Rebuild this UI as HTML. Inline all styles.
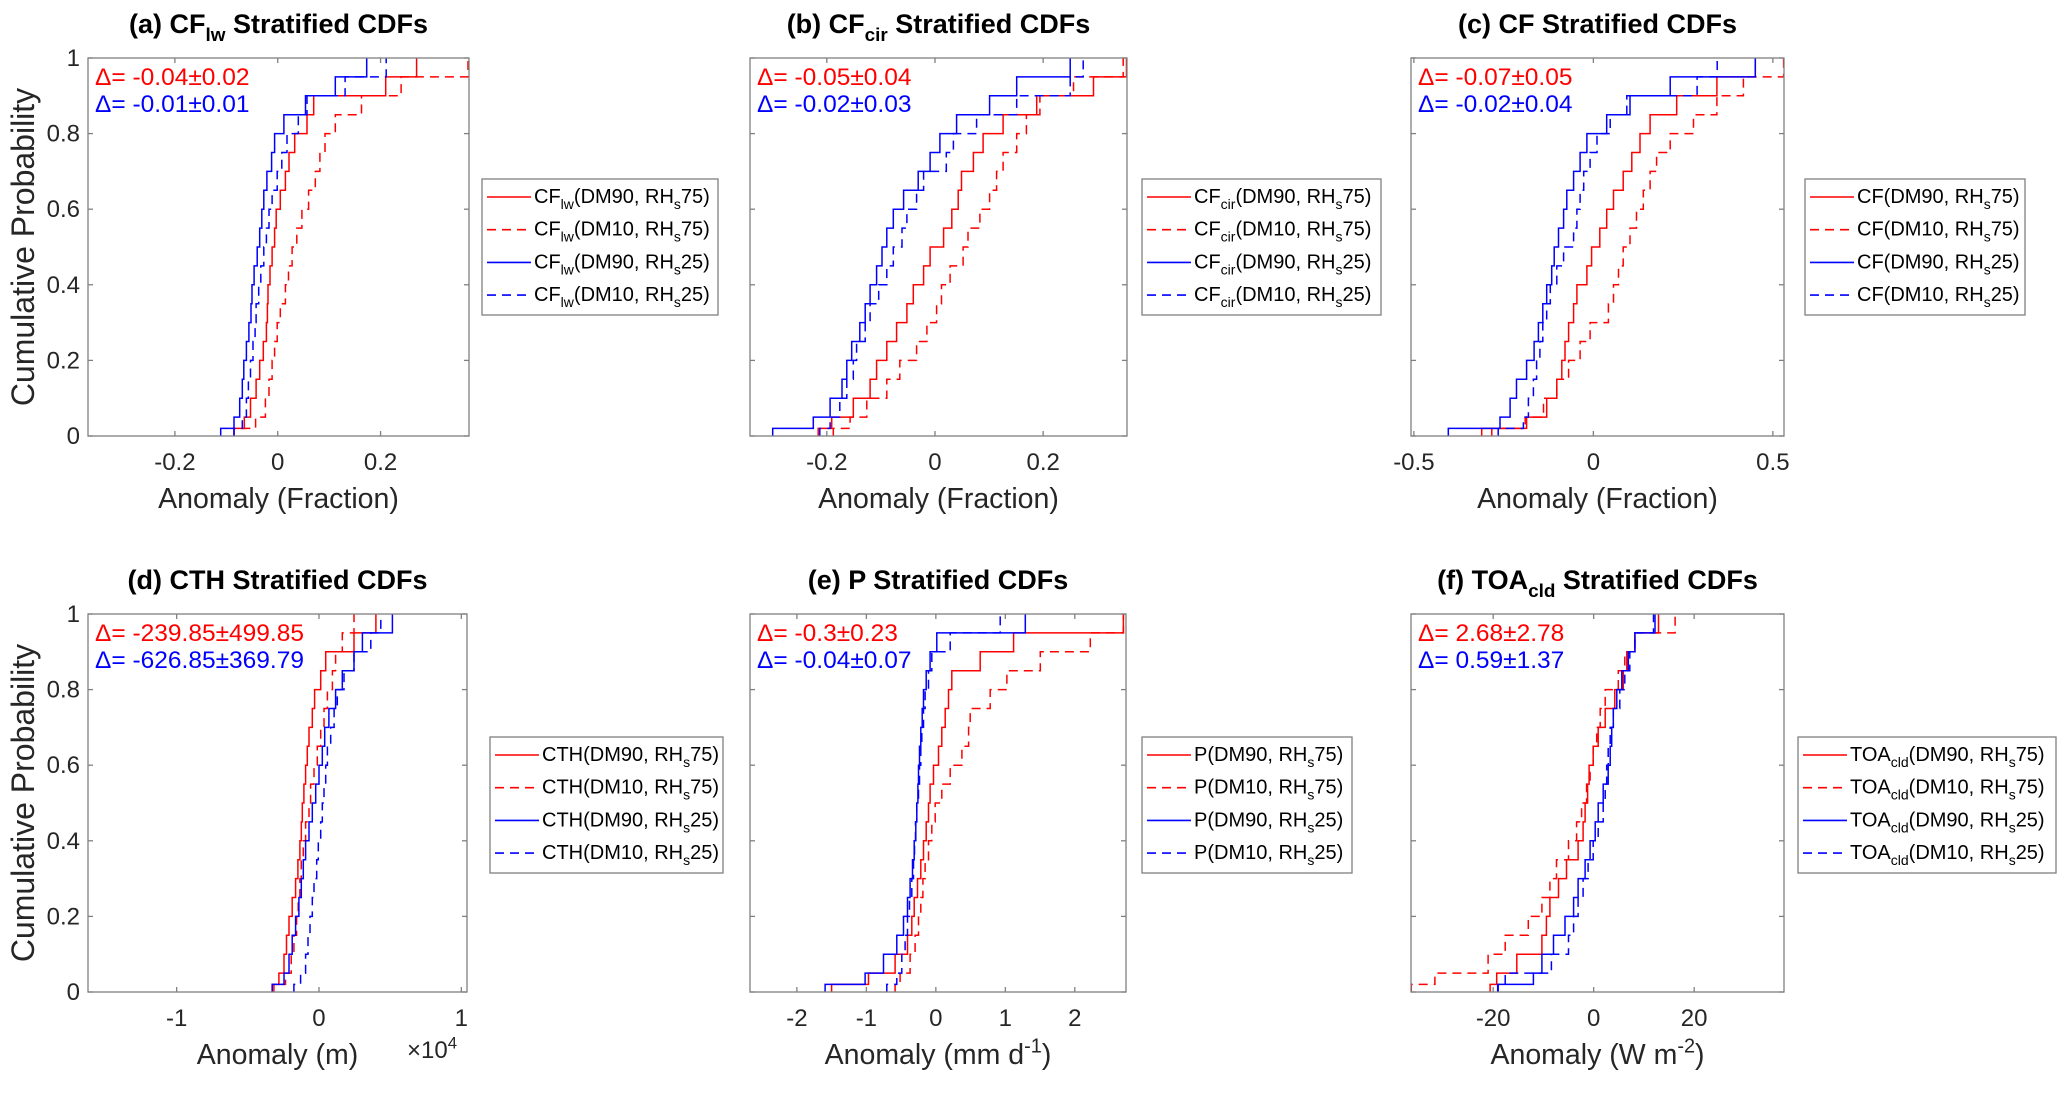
<!DOCTYPE html>
<html><head><meta charset="utf-8"><title>Stratified CDFs</title>
<style>
html,body{margin:0;padding:0;background:#fff;}
svg{display:block;font-family:"Liberation Sans",Arial,sans-serif;}
</style></head>
<body>
<svg id="fig" xmlns="http://www.w3.org/2000/svg" width="2067" height="1101" viewBox="0 0 2067 1101">
<rect width="2067" height="1101" fill="#fff"/>
</svg>
<script>
// ---------- data ----------
const probLevels = [0,.05,.1,.15,.2,.25,.3,.35,.4,.45,.5,.55,.6,.65,.7,.75,.8,.85,.9,.95,1];
const yTicks = [0,0.2,0.4,0.6,0.8,1];
const yTickLabels = ["0","0.2","0.4","0.6","0.8","1"];

// (a) CFlw
const aRedSolid  = [-0.085,-0.065,-0.053,-0.042,-0.035,-0.028,-0.022,-0.02,-0.019,-0.015,-0.011,-0.006,-0.003,0.005,0.015,0.022,0.033,0.057,0.07,0.21,0.27];
const aRedDash   = [-0.085,-0.043,-0.024,-0.017,-0.011,-0.006,-0.001,0.005,0.015,0.021,0.028,0.037,0.047,0.06,0.073,0.082,0.092,0.112,0.163,0.24,0.37];
const aBlueSolid = [-0.111,-0.085,-0.074,-0.069,-0.066,-0.061,-0.056,-0.052,-0.05,-0.046,-0.04,-0.035,-0.031,-0.027,-0.021,-0.012,-0.006,0.012,0.054,0.112,0.173];
const aBlueDash  = [-0.085,-0.069,-0.061,-0.057,-0.053,-0.048,-0.044,-0.042,-0.037,-0.033,-0.027,-0.022,-0.017,-0.011,-0.001,0.008,0.018,0.04,0.057,0.131,0.211];
const aXTicks = [-0.2,0,0.2];
const aXTickLabels = ["-0.2","0","0.2"];

// (b) CFcir
const bRedSolid  = [-0.216,-0.191,-0.151,-0.12,-0.108,-0.089,-0.071,-0.052,-0.04,-0.021,-0.009,0.016,0.031,0.043,0.049,0.071,0.089,0.126,0.188,0.293,0.354];
const bRedDash   = [-0.188,-0.157,-0.126,-0.089,-0.065,-0.034,-0.015,0.003,0.012,0.028,0.052,0.061,0.083,0.101,0.114,0.126,0.151,0.169,0.194,0.256,0.348];
const bBlueSolid = [-0.3,-0.225,-0.194,-0.172,-0.163,-0.154,-0.139,-0.129,-0.12,-0.108,-0.098,-0.089,-0.077,-0.058,-0.031,-0.009,0.009,0.04,0.101,0.151,0.25];
const bBlueDash  = [-0.213,-0.194,-0.176,-0.163,-0.151,-0.145,-0.129,-0.12,-0.104,-0.089,-0.077,-0.061,-0.052,-0.034,-0.021,0.021,0.034,0.077,0.151,0.25,0.274];
const bXTicks = [-0.2,0,0.2];
const bXTickLabels = ["-0.2","0","0.2"];

// (c) CF
const cRedSolid  = [-0.311,-0.186,-0.13,-0.102,-0.088,-0.079,-0.069,-0.055,-0.046,-0.018,-0.005,0.018,0.037,0.056,0.083,0.107,0.13,0.158,0.232,0.344,0.451];
const cRedDash   = [-0.283,-0.19,-0.139,-0.102,-0.069,-0.037,-0.009,0.042,0.056,0.07,0.083,0.102,0.12,0.139,0.158,0.176,0.214,0.279,0.344,0.418,0.53];
const cBlueSolid = [-0.404,-0.26,-0.232,-0.214,-0.186,-0.165,-0.153,-0.141,-0.13,-0.116,-0.109,-0.097,-0.083,-0.074,-0.055,-0.037,-0.018,0.037,0.102,0.214,0.451];
const cBlueDash  = [-0.265,-0.195,-0.181,-0.167,-0.158,-0.149,-0.141,-0.13,-0.12,-0.102,-0.083,-0.055,-0.046,-0.037,-0.027,-0.009,0.01,0.047,0.093,0.289,0.345];
const cXTicks = [-0.5,0,0.5];
const cXTickLabels = ["-0.5","0","0.5"];

// (d) CTH  (units of 1e4 m)
const dRedSolid  = [-0.329,-0.282,-0.246,-0.228,-0.211,-0.188,-0.164,-0.148,-0.134,-0.124,-0.117,-0.106,-0.094,-0.082,-0.07,-0.047,-0.031,0.012,0.047,0.246,0.4];
const dRedDash   = [-0.317,-0.235,-0.195,-0.176,-0.157,-0.146,-0.134,-0.124,-0.11,-0.094,-0.07,-0.059,-0.035,-0.012,0.012,0.035,0.059,0.094,0.117,0.164,0.246];
const dBlueSolid = [-0.329,-0.246,-0.211,-0.188,-0.164,-0.141,-0.124,-0.11,-0.094,-0.07,-0.047,-0.023,0,0.023,0.04,0.07,0.117,0.164,0.246,0.305,0.516];
const dBlueDash  = [-0.176,-0.129,-0.094,-0.077,-0.063,-0.047,-0.035,-0.016,-0.005,0.012,0.023,0.035,0.047,0.059,0.082,0.106,0.129,0.176,0.246,0.364,0.434];
const dXTicks = [-1,0,1];
const dXTickLabels = ["-1","0","1"];

// (e) P
const eRedSolid  = [-1.5,-0.97,-0.586,-0.408,-0.346,-0.312,-0.264,-0.216,-0.178,-0.139,-0.106,-0.082,-0.034,0.038,0.086,0.134,0.182,0.23,0.639,1.119,2.7];
const eRedDash   = [-0.586,-0.514,-0.37,-0.298,-0.25,-0.216,-0.187,-0.154,-0.106,-0.058,-0.01,0.086,0.206,0.375,0.471,0.495,0.783,1.023,1.503,2.223,2.7];
const eBlueSolid = [-1.594,-1.018,-0.754,-0.562,-0.466,-0.408,-0.37,-0.336,-0.312,-0.288,-0.274,-0.259,-0.25,-0.235,-0.216,-0.197,-0.178,-0.139,-0.082,0.014,1.287];
const eBlueDash  = [-0.706,-0.562,-0.49,-0.442,-0.408,-0.379,-0.346,-0.322,-0.307,-0.293,-0.274,-0.25,-0.235,-0.216,-0.202,-0.178,-0.154,-0.106,-0.058,0.206,0.927];
const eXTicks = [-2,-1,0,1,2];
const eXTickLabels = ["-2","-1","0","1","2"];

// (f) TOAcld
const fRedSolid  = [-20.6,-19.3,-15.3,-10.3,-9.4,-8.7,-7.0,-5.4,-3.1,-2.1,-1.7,-1.2,-0.9,-0.1,0.9,2.3,4.2,5.9,6.6,8.2,12.9];
const fRedDash   = [-36.3,-31.6,-21,-17.6,-13,-10.3,-8.7,-7.4,-5,-3.4,-2.4,-1.4,-0.7,-0.1,0.6,1.3,2.3,4.9,6.2,8.2,16.2];
const fBlueSolid = [-19.1,-12,-10.3,-8,-5.7,-4,-3.1,-1.7,-0.7,0.3,0.9,1.9,2.9,3.3,3.6,3.9,4.6,5.6,6.9,8.2,12.2];
const fBlueDash  = [-19,-17.6,-8.4,-5,-4,-3.1,-2.1,-1.1,-0.1,0.9,1.9,2.3,2.6,2.9,3.3,3.9,5.2,6.2,7.2,8.2,11.9];
const fXTicks = [-20,0,20];
const fXTickLabels = ["-20","0","20"];

// ---------- layout ----------
const NS = "http://www.w3.org/2000/svg";
const svg = document.getElementById("fig");
const RED = "#ff0000", BLUE = "#0000ff", FRAME = "#808080", TXT = "#262626";

const panels = [
 {id:"a", L:88, R:469, T:58, B:436, xmin:-0.369, xmax:0.372, xt:aXTicks, xtl:aXTickLabels,
  series:[aRedSolid,aRedDash,aBlueSolid,aBlueDash], yLabels:true,
  title:[["(a) CF",0],["lw",1],[" Stratified CDFs",0]], varName:[["CF",0],["lw",1]],
  dr:"Δ= -0.04±0.02", db:"Δ= -0.01±0.01", xlab:[["Anomaly (Fraction)",0]], leg:[482,179,236]},
 {id:"b", L:750, R:1127, T:58, B:436, xmin:-0.342, xmax:0.355, xt:bXTicks, xtl:bXTickLabels,
  series:[bRedSolid,bRedDash,bBlueSolid,bBlueDash], yLabels:false,
  title:[["(b) CF",0],["cir",1],[" Stratified CDFs",0]], varName:[["CF",0],["cir",1]],
  dr:"Δ= -0.05±0.04", db:"Δ= -0.02±0.03", xlab:[["Anomaly (Fraction)",0]], leg:[1142,179,239]},
 {id:"c", L:1411, R:1784, T:58, B:436, xmin:-0.508, xmax:0.531, xt:cXTicks, xtl:cXTickLabels,
  series:[cRedSolid,cRedDash,cBlueSolid,cBlueDash], yLabels:false,
  title:[["(c) CF Stratified CDFs",0]], varName:[["CF",0]],
  dr:"Δ= -0.07±0.05", db:"Δ= -0.02±0.04", xlab:[["Anomaly (Fraction)",0]], leg:[1805,179,220]},
 {id:"d", L:88, R:467, T:614, B:992, xmin:-1.623, xmax:1.04, xt:dXTicks, xtl:dXTickLabels,
  series:[dRedSolid,dRedDash,dBlueSolid,dBlueDash], yLabels:true,
  title:[["(d) CTH Stratified CDFs",0]], varName:[["CTH",0]],
  dr:"Δ= -239.85±499.85", db:"Δ= -626.85±369.79", xlab:[["Anomaly (m)",0]], leg:[490,737,233], exp:true},
 {id:"e", L:750, R:1126, T:614, B:992, xmin:-2.675, xmax:2.737, xt:eXTicks, xtl:eXTickLabels,
  series:[eRedSolid,eRedDash,eBlueSolid,eBlueDash], yLabels:false,
  title:[["(e) P Stratified CDFs",0]], varName:[["P",0]],
  dr:"Δ= -0.3±0.23", db:"Δ= -0.04±0.07", xlab:[["Anomaly (mm d",0],["-1",2],[")",0]], leg:[1142,737,210]},
 {id:"f", L:1411, R:1784, T:614, B:992, xmin:-36.35, xmax:37.88, xt:fXTicks, xtl:fXTickLabels,
  series:[fRedSolid,fRedDash,fBlueSolid,fBlueDash], yLabels:false,
  title:[["(f) TOA",0],["cld",1],[" Stratified CDFs",0]], varName:[["TOA",0],["cld",1]],
  dr:"Δ= 2.68±2.78", db:"Δ= 0.59±1.37", xlab:[["Anomaly (W m",0],["-2",2],[")",0]], leg:[1798,737,258]}
];
const seriesStyle = [
  {c:RED, dash:null, dm:"DM90", rh:"75", n:"red-solid"},
  {c:RED, dash:"9,6", dm:"DM10", rh:"75", n:"red-dashed"},
  {c:BLUE, dash:null, dm:"DM90", rh:"25", n:"blue-solid"},
  {c:BLUE, dash:"9,6", dm:"DM10", rh:"25", n:"blue-dashed"}
];

function el(tag, attrs, parent){
  const e = document.createElementNS(NS, tag);
  for (const k in attrs) e.setAttribute(k, attrs[k]);
  (parent||svg).appendChild(e);
  return e;
}
function rich(t, parts, size){
  let shift = 0;
  parts.forEach(([s,m])=>{
    const ts = document.createElementNS(NS,"tspan");
    const target = m===1 ? size*0.3 : (m===2 ? -size*0.4 : 0);
    ts.setAttribute("dy", target - shift);
    shift = target;
    if (m) ts.setAttribute("font-size", size*0.7);
    ts.textContent = s;
    t.appendChild(ts);
  });
}

panels.forEach(p=>{
  const g = el("g",{});
  
  
  const xs = v => p.L + (v - p.xmin)/(p.xmax - p.xmin)*(p.R - p.L);
  const ys = v => p.B - v*(p.B - p.T);
  const cx = (p.L+p.R)/2;

  const cp = el("clipPath",{id:"clip-"+p.id}, g);
  el("rect",{x:p.L,y:p.T-1,width:p.R-p.L,height:p.B-p.T+2}, cp);

  p.series.forEach((vals,si)=>{
    const st = seriesStyle[si];
    let d = "M" + xs(vals[0]).toFixed(1) + "," + ys(0).toFixed(1);
    for (let i=1;i<vals.length;i++){
      d += " V" + ys(probLevels[i-1]+ (i===1?0.02:0)).toFixed(1);
      d += " H" + xs(vals[i]).toFixed(1);
      d += " V" + ys(probLevels[i]).toFixed(1);
    }
    const path = el("path",{d:d, fill:"none", stroke:st.c, "stroke-width":1.5, "clip-path":"url(#clip-"+p.id+")"}, g);
    if (st.dash) path.setAttribute("stroke-dasharray", st.dash);
    
    
  });

  const fr = el("rect",{x:p.L,y:p.T,width:p.R-p.L,height:p.B-p.T,fill:"none",stroke:FRAME,"stroke-width":1.3}, g);
  
  

  yTicks.forEach((v,i)=>{
    const y = ys(v);
    el("line",{x1:p.L,x2:p.L+5,y1:y,y2:y,stroke:FRAME,"stroke-width":1.3}, g);
    el("line",{x1:p.R,x2:p.R-5,y1:y,y2:y,stroke:FRAME,"stroke-width":1.3}, g);
    if (p.yLabels){
      const t = el("text",{x:p.L-8,y:y+8,"text-anchor":"end","font-size":24,fill:TXT}, g);
      t.textContent = yTickLabels[i];
      
      
    }
  });
  p.xt.forEach((v,i)=>{
    const x = xs(v);
    el("line",{x1:x,x2:x,y1:p.B,y2:p.B-5,stroke:FRAME,"stroke-width":1.3}, g);
    el("line",{x1:x,x2:x,y1:p.T,y2:p.T+5,stroke:FRAME,"stroke-width":1.3}, g);
    const t = el("text",{x:x,y:p.B+34,"text-anchor":"middle","font-size":24,fill:TXT}, g);
    t.textContent = p.xtl[i];
    
    
  });

  const tt = el("text",{x:cx,y:p.T-25,"text-anchor":"middle","font-size":27,"font-weight":"bold",fill:"#000"}, g);
  rich(tt, p.title, 27);
  
  

  const xl = el("text",{x:cx,y:p.B+72,"text-anchor":"middle","font-size":28.5,fill:TXT}, g);
  rich(xl, p.xlab, 28.5);
  
  

  if (p.yLabels){
    const yl = el("text",{x:0,y:0,"text-anchor":"middle","font-size":32,fill:TXT,
      transform:"translate(34,"+((p.T+p.B)/2)+") rotate(-90)"}, g);
    yl.textContent = "Cumulative Probability";
    
    
  }

  if (p.exp){
    const ex = el("text",{x:p.R-60,y:p.B+66,"font-size":24,fill:TXT}, g);
    rich(ex, [["×10",0],["4",2]], 24);
    
    
  }

  const t1 = el("text",{x:p.L+7,y:p.T+27,"font-size":24.5,fill:RED}, g);
  t1.textContent = p.dr;
  
  
  const t2 = el("text",{x:p.L+7,y:p.T+54,"font-size":24.5,fill:BLUE}, g);
  t2.textContent = p.db;
  
  

  const [lx, ly, lw] = p.leg;
  const lg = el("g",{}, g);
  
  
  el("rect",{x:lx,y:ly,width:lw,height:136,fill:"#fff",stroke:FRAME,"stroke-width":1.3}, lg);
  seriesStyle.forEach((st,i)=>{
    const yy = ly + 18 + i*32.7;
    const ent = el("g",{}, lg);
    
    
    const ln = el("line",{x1:lx+5,x2:lx+49,y1:yy,y2:yy,stroke:st.c,"stroke-width":1.6}, ent);
    if (st.dash) ln.setAttribute("stroke-dasharray","9,6");
    const tx = el("text",{x:lx+52,y:yy+6,"font-size":20,fill:"#000"}, ent);
    rich(tx, p.varName.concat([["("+st.dm+", RH",0],["s",1],[st.rh+")",0]]), 20);
  });
});
</script>
</body></html>
